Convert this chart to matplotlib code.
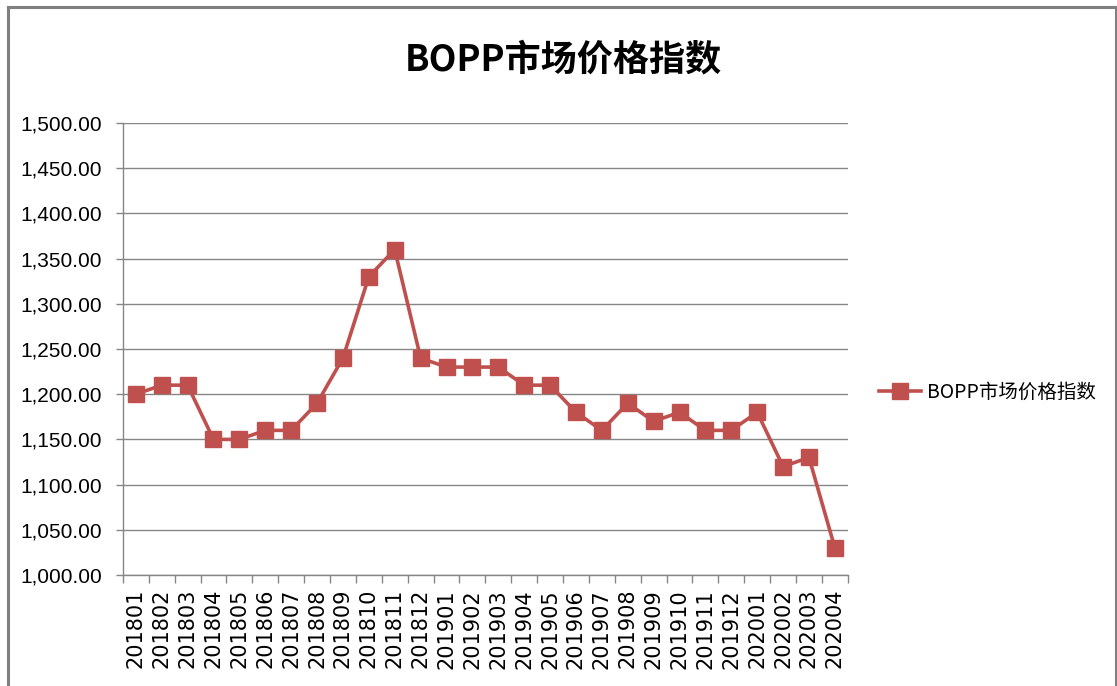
import numpy as np
import matplotlib
matplotlib.use('Agg')
import matplotlib.pyplot as plt
from matplotlib.lines import Line2D
from matplotlib.ticker import FuncFormatter, FixedLocator

# Data
months = ['201801', '201802', '201803', '201804', '201805', '201806', '201807',
          '201808', '201809', '201810', '201811', '201812', '201901', '201902',
          '201903', '201904', '201905', '201906', '201907', '201908', '201909',
          '201910', '201911', '201912', '202001', '202002', '202003', '202004']
index_values = [1200, 1210, 1210, 1150, 1150, 1160, 1160,
                1190, 1240, 1330, 1360, 1240, 1230, 1230,
                1230, 1210, 1210, 1180, 1160, 1190, 1170,
                1180, 1160, 1160, 1180, 1120, 1130, 1030]
series_name = 'BOPP市场价格指数'
title_text = 'BOPP市场价格指数'

cjk = ['Noto Sans CJK SC', 'DejaVu Sans']
narrow = ['Liberation Sans Narrow', 'Liberation Sans', 'DejaVu Sans']
red = '#C0504D'
gray = '#868686'

fig = plt.figure(figsize=(11.17, 6.86), dpi=100)
ax = fig.add_axes([0.110, 0.1618, 0.649, 0.6589])

x = np.arange(len(months))
ax.plot(x, index_values, color=red, lw=2.6, marker='s', markersize=12,
        markerfacecolor=red, markeredgecolor=red, label=series_name)

ax.set_xlim(-0.5, len(months) - 0.5)
ax.set_ylim(1000, 1500)
ax.set_yticks(np.arange(1000, 1501, 50))
ax.yaxis.set_major_formatter(FuncFormatter(lambda v, p: f'{v:,.2f}'))
ax.grid(axis='y', color=gray, lw=1)
ax.set_axisbelow(True)

# category boundaries as ticks, labels in the middle
ax.xaxis.set_major_locator(FixedLocator(np.arange(-0.5, len(months), 1)))
ax.xaxis.set_minor_locator(FixedLocator(x))
ax.set_xticklabels([], minor=False)
ax.set_xticklabels(months, minor=True, rotation=90, fontsize=15,
                   family='DejaVu Sans')
ax.tick_params(axis='x', which='major', length=6, color=gray, width=1)
ax.tick_params(axis='x', which='minor', length=0, pad=10)
ax.tick_params(axis='y', length=5, color=gray, width=1, pad=10)
for lab in ax.get_yticklabels():
    lab.set_family(narrow)
    lab.set_fontsize(15)

for s in ['top', 'right']:
    ax.spines[s].set_visible(False)
for s in ['left', 'bottom']:
    ax.spines[s].set_color(gray)
    ax.spines[s].set_linewidth(1)

fig.text(0.504, 0.9125, title_text, ha='center', va='center',
         fontsize=26, fontweight='bold', family=cjk)

fig.legend(loc='center left', bbox_to_anchor=(0.771, 0.428), frameon=False,
           prop={'family': cjk, 'size': 14}, handlelength=2.2,
           handletextpad=0.3)

# outer border of the chart area
for xs, ys in [([0.0072, 0.0072], [0.0, 0.990]),
               ([0.0072, 0.999], [0.990, 0.990]),
               ([0.999, 0.999], [0.0, 0.990])]:
    fig.add_artist(Line2D(xs, ys, color='#808080', lw=2.2,
                          transform=fig.transFigure))

fig.savefig('out.png', dpi=100)
